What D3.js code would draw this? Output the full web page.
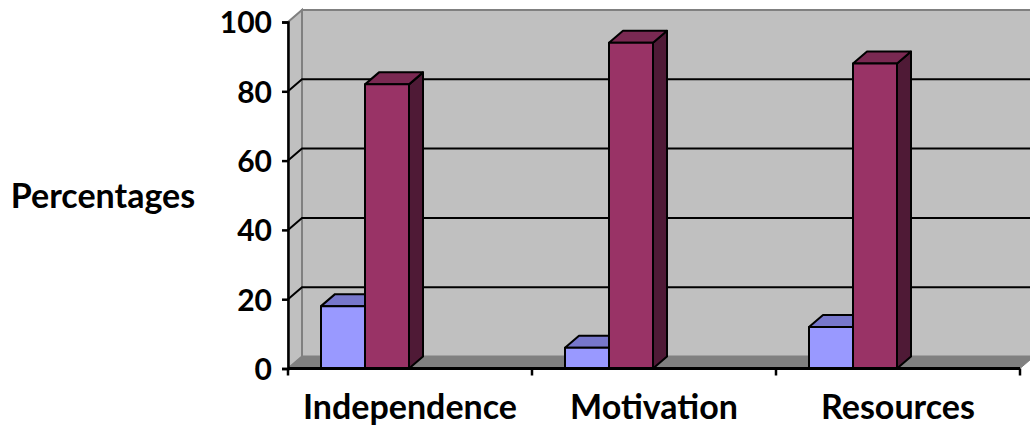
<!DOCTYPE html>
<html>
<head>
<meta charset="utf-8">
<script src="https://cdn.jsdelivr.net/npm/d3@7/dist/d3.min.js"></script>
<style>
  html, body { margin: 0; padding: 0; background: #fff; }
  svg { display: block; }
  text { font-family: Lato, "Open Sans", sans-serif; font-weight: bold; fill: #000; }
</style>
</head>
<body>
<svg id="chart" width="1030" height="430"></svg>
<script>
// Chart data
const categories = ["Independence", "Motivation", "Resources"];
const seriesNames = ["No", "Yes"];
const seriesNo = [18, 6, 12];
const seriesYes = [82, 94, 88];
const yTicks = [0, 20, 40, 60, 80, 100];
const yTitle = "Percentages";

const seriesValues = [seriesNo, seriesYes];
const frontColors = ["#9999ff", "#993366"];
const topColors = ["#7777cc", "#7a2952"];
const sideColors = ["#5c5c99", "#4f1a36"];

const svg = d3.select("#chart");

// Plot frame (front plane) and depth offset for the 3D look
const plotLeft = 288, plotRight = 1020, plotTop = 22, plotBottom = 368.5;
const dx = 14, dy = -12;

const y = d3.scaleLinear().domain([0, 100]).range([plotBottom, plotTop]);
const x = d3.scaleBand().domain(categories).range([plotLeft, plotRight]).padding(0);
const xs = d3.scaleBand().domain(seriesNames)
  .range([33, 33 + 88]).padding(0);

const poly = pts => pts.map(p => p.join(",")).join(" ");

// Back wall
svg.append("polygon")
  .attr("points", poly([[plotLeft + dx, y(0) + dy], [plotRight + dx, y(0) + dy],
                        [plotRight + dx, y(100) + dy], [plotLeft + dx, y(100) + dy]]))
  .attr("fill", "#c0c0c0").attr("stroke", "#808080").attr("stroke-width", 2);

// Side wall
svg.append("polygon")
  .attr("points", poly([[plotLeft, y(0)], [plotLeft + dx, y(0) + dy],
                        [plotLeft + dx, y(100) + dy], [plotLeft, y(100)]]))
  .attr("fill", "#c0c0c0").attr("stroke", "#808080").attr("stroke-width", 2);

// Floor
svg.append("polygon")
  .attr("points", poly([[plotLeft, y(0)], [plotRight, y(0)],
                        [plotRight + dx, y(0) + dy], [plotLeft + dx, y(0) + dy]]))
  .attr("fill", "#808080").attr("stroke", "#808080").attr("stroke-width", 1);

// Gridlines on the back wall and side wall
const grid = yTicks.filter(v => v > 0 && v < 100);
svg.append("g").selectAll("polyline").data(grid).join("polyline")
  .attr("points", v => poly([[plotLeft, y(v)], [plotLeft + dx, y(v) + dy], [plotRight + dx, y(v) + dy]]))
  .attr("fill", "none").attr("stroke", "#000").attr("stroke-width", 2);

// Bars (prisms)
const bars = svg.append("g");
categories.forEach((c, i) => {
  seriesNames.forEach((s, j) => {
    const v = seriesValues[j][i];
    const x0 = x(c) + xs(s);
    const w = xs.bandwidth();
    const yt = y(v), yb = y(0);
    const g = bars.append("g")
      .attr("stroke", "#000").attr("stroke-width", 2).attr("stroke-linejoin", "round");
    g.append("polygon")
      .attr("points", poly([[x0 + w, yt], [x0 + w + dx, yt + dy], [x0 + w + dx, yb + dy], [x0 + w, yb]]))
      .attr("fill", sideColors[j]);
    g.append("polygon")
      .attr("points", poly([[x0, yt], [x0 + dx, yt + dy], [x0 + w + dx, yt + dy], [x0 + w, yt]]))
      .attr("fill", topColors[j]);
    g.append("rect")
      .attr("x", x0).attr("y", yt).attr("width", w).attr("height", yb - yt)
      .attr("fill", frontColors[j]);
  });
});

// Y axis
const yAxis = svg.append("g")
  .attr("transform", `translate(${plotLeft},0)`)
  .call(d3.axisLeft(y).tickValues(yTicks).tickSize(6).tickPadding(10).tickFormat(d3.format("d")));
yAxis.select(".domain").attr("stroke", "#000").attr("stroke-width", 2.5);
yAxis.selectAll(".tick line").attr("stroke", "#000").attr("stroke-width", 2.5);
yAxis.selectAll(".tick text").style("font-size", "30px").attr("dy", "0.36em");

// X axis line with ticks at category boundaries
const xAxis = svg.append("g");
xAxis.append("line")
  .attr("x1", plotLeft).attr("x2", plotRight).attr("y1", plotBottom).attr("y2", plotBottom)
  .attr("stroke", "#000").attr("stroke-width", 3);
const bounds = categories.map(c => x(c)).concat([x.range()[1]]);
xAxis.selectAll(".xt").data(bounds).join("line")
  .attr("class", "xt")
  .attr("x1", d => d).attr("x2", d => d)
  .attr("y1", plotBottom).attr("y2", plotBottom + 7)
  .attr("stroke", "#000").attr("stroke-width", 2.5);
xAxis.selectAll(".xl").data(categories).join("text")
  .attr("class", "xl")
  .attr("x", c => x(c) + x.bandwidth() / 2)
  .attr("y", 419)
  .attr("text-anchor", "middle")
  .style("font-size", "34px")
  .text(d => d);

// Y axis title
svg.append("text")
  .attr("x", 103).attr("y", 208)
  .attr("text-anchor", "middle")
  .style("font-size", "34px")
  .text(yTitle);
</script>
</body>
</html>
